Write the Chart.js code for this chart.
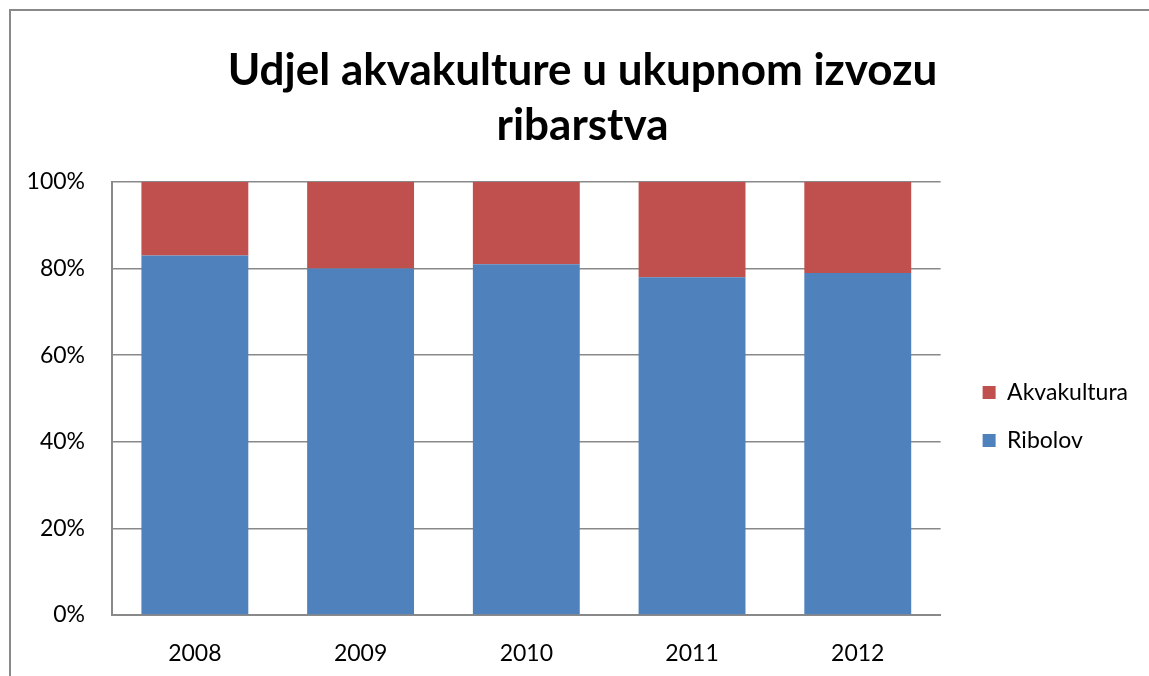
<!DOCTYPE html>
<html>
<head>
<meta charset="utf-8">
<script src="https://cdn.jsdelivr.net/npm/chart.js@4.4.0/dist/chart.umd.min.js"></script>
<style>
  html, body { margin: 0; padding: 0; background: #fff; overflow: hidden; }
  #frame { position: absolute; left: 9px; top: 9px; width: 2000px; height: 2000px; border: 2px solid #898989; }
  #chart { position: absolute; left: 0; top: 0; }
</style>
</head>
<body>
<div id="frame"></div>
<canvas id="chart" width="1149" height="676"></canvas>
<script>
// data
const years = ["2008", "2009", "2010", "2011", "2012"];
const ribolov = [83, 80, 81, 78, 79];
const akvakultura = [17, 20, 19, 22, 21];
const yTicks = [0, 20, 40, 60, 80, 100];

// move legend and title a little, like in the excel chart
const nudge = {
  id: "nudge",
  afterLayout(chart) {
    let lg = chart.legend;
    lg.left += 17; lg.right += 17;
    lg.top += 18; lg.bottom += 18;
    let t = chart.titleBlock;
    t.left += 8; t.right += 8;
  }
};

const ctx = document.getElementById("chart");
new Chart(ctx, {
  type: "bar",
  data: {
    labels: years,
    datasets: [
      { label: "Ribolov", data: ribolov, backgroundColor: "#4F81BD" },
      { label: "Akvakultura", data: akvakultura, backgroundColor: "#C0504D" }
    ]
  },
  options: {
    responsive: false,
    animation: false,
    categoryPercentage: 1,
    barPercentage: 0.645,
    layout: { padding: { left: 28, right: 28, top: 16, bottom: 8 } },
    plugins: {
      title: {
        display: true,
        text: ["Udjel akvakulture u ukupnom izvozu", "ribarstva"],
        color: "#000",
        font: { family: "Lato", size: 44, weight: "bold", lineHeight: 1.25 },
        padding: { top: 27, bottom: 29 }
      },
      legend: {
        position: "right",
        fullSize: false,
        reverse: true,
        labels: {
          color: "#000",
          boxWidth: 13,
          boxHeight: 13,
          padding: 25,
          font: { family: "Lato", size: 23 }
        }
      },
      tooltip: { enabled: false }
    },
    scales: {
      x: {
        stacked: true,
        afterFit: (s) => { s.height = 53; },
        grid: { display: false, drawTicks: false },
        border: { color: "#898989", width: 2 },
        ticks: { color: "#000", padding: 25, font: { family: "Lato", size: 23 } }
      },
      y: {
        stacked: true,
        min: 0,
        max: 100,
        afterFit: (s) => { s.width = 84; },
        afterBuildTicks: (axis) => { axis.ticks = yTicks.map(v => ({ value: v })); },
        grid: { color: "#898989", lineWidth: 1.5, drawTicks: false },
        border: { color: "#898989", width: 2 },
        ticks: {
          color: "#000",
          padding: 27,
          font: { family: "Lato", size: 23 },
          callback: (v) => v + "%"
        }
      }
    }
  },
  plugins: [nudge]
});
</script>
</body>
</html>
